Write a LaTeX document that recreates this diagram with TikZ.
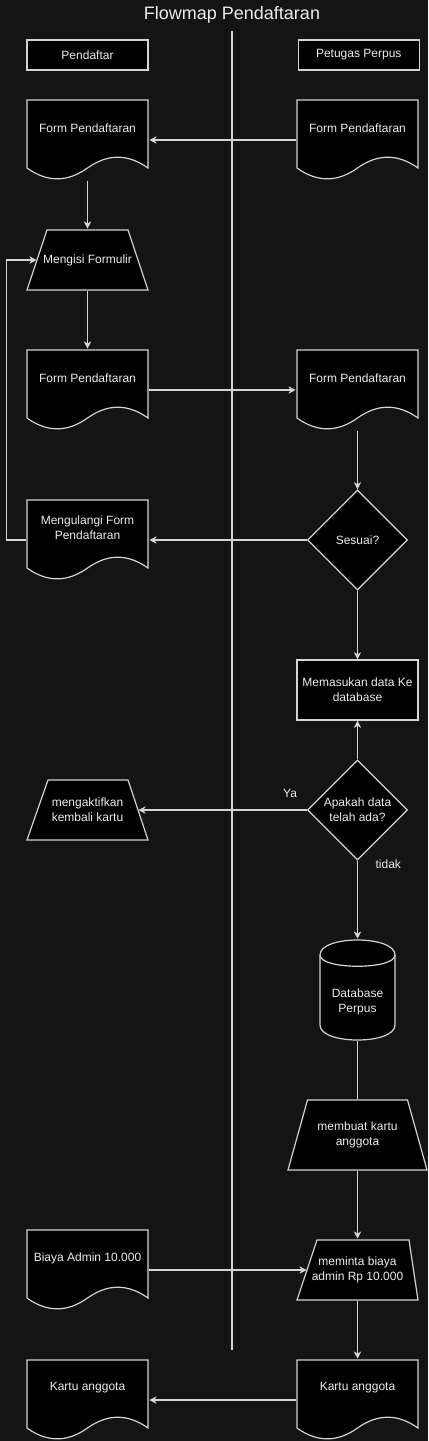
\documentclass[tikz,border=0pt]{standalone}
\usepackage{fontspec}
\setmainfont{Liberation Sans}
\usetikzlibrary{positioning,shapes.geometric,arrows.meta}
\definecolor{canvas}{RGB}{20,20,20}
\definecolor{stroke}{RGB}{212,212,212}
\definecolor{ink}{RGB}{236,236,236}
\newcommand{\pxu}{0.025cm}
\tikzset{%
  every node/.style={text=ink,font=\fontsize{8.54}{10.7}\selectfont,align=center},
  outline/.style={draw=stroke,fill=black,line width=0.85pt},
  lane/.style={outline,minimum width=121*\pxu,minimum height=30*\pxu,inner sep=0pt},
  proc/.style={outline,minimum width=121*\pxu,minimum height=60*\pxu,inner sep=0pt},
  doc/.style={minimum width=123*\pxu,minimum height=82*\pxu,inner sep=0pt,
    label={[yshift=0.3cm]center:#1},
    path picture={
      \filldraw[outline] (-60.5,-40) -- (60.5,-40) -- (60.5,28)
        .. controls (40.33,13.6) and (20.17,13.6) .. (0,28)
        .. controls (-20.17,42.4) and (-40.33,42.4) .. (-60.5,28) -- cycle;}},
  store/.style={minimum width=77*\pxu,minimum height=102*\pxu,inner sep=0pt,
    label={[yshift=-0.3cm]center:#1},
    path picture={
      \filldraw[outline] (-37.5,-35) .. controls (-37.5,-55) and (37.5,-55) .. (37.5,-35)
        -- (37.5,35) .. controls (37.5,55) and (-37.5,55) .. (-37.5,35) -- cycle;
      \draw[outline,fill=none] (-37.5,-35) .. controls (-37.5,-20) and (37.5,-20) .. (37.5,-35);}},
  % half width, half height, left inset, right inset, text
  io/.style n args={5}{minimum width=(2*#1+2)*\pxu,minimum height=(2*#2+2)*\pxu,inner sep=0pt,
    label={center:#5},
    path picture={
      \filldraw[outline] (-#1+#3,-#2) -- (#1-#4,-#2) -- (#1,#2) -- (-#1,#2) -- cycle;}},
  decide/.style={outline,diamond,minimum width=100*\pxu,minimum height=100*\pxu,inner sep=0pt},
  link/.style={draw=stroke,line width=0.85pt},
  flow/.style={link,-{Stealth[length=0.18cm,width=0.18cm,inset=0.05cm]}}
}

\begin{document}
\begin{tikzpicture}[x=\pxu,y=-\pxu]
  \path[fill=canvas,use as bounding box] (0,0) rectangle (428,1441);

  \node[font=\fontsize{12.8}{15}\selectfont] (title) at (232,15) {Flowmap Pendaftaran};
  \coordinate (laneTop) at (232,31);
  \coordinate (laneEnd) at (232,1350);
  \draw[link] (laneTop) -- (laneEnd);

  \node[lane] (pendaftar) at (87.5,55) {Pendaftar};
  \node[lane,right=3.725cm of pendaftar] (petugas) {Petugas Perpus};

  % pendaftar
  \node[doc=Form Pendaftaran] (formA) at (87.5,140) {};
  \node[io={60.5}{30}{20}{20}{Mengisi Formulir}] (isi) at (87.5,260) {};
  \node[doc=Form Pendaftaran] (formB) at (87.5,390) {};
  \node[doc={Mengulangi Form\\Pendaftaran}] (ulang) at (87.5,540) {};
  \node[io={60.5}{30}{21}{20}{mengaktifkan\\kembali kartu}] (aktif) at (87.5,810) {};
  \node[doc=Biaya Admin 10.000] (biaya) at (87.5,1270) {};
  \node[doc=Kartu anggota] (kartuA) at (87.5,1400) {};

  % petugas perpus
  \node[doc=Form Pendaftaran] (formP) at (357.5,140) {};
  \node[doc=Form Pendaftaran] (formC) at (357.5,390) {};
  \node[decide] (sesuai) at (357.5,540) {Sesuai?};
  \node[proc] (masuk) at (357.5,690) {Memasukan data Ke\\database};
  \node[decide] (ada) at (357.5,810) {Apakah data\\telah ada?};
  \node[store={Database\\Perpus}] (db) at (357.5,990) {};
  \node[io={69.5}{35}{19.5}{19.5}{membuat kartu\\anggota}] (buat) at (357.5,1135) {};
  \node[io={60.5}{30}{20}{9}{meminta biaya\\admin Rp 10.000}] (minta) at (357.5,1270) {};
  \node[doc=Kartu anggota] (kartuP) at (357.5,1400) {};

  \draw[flow] (formP) -- (formA);
  \draw[flow] (formA) -- (isi);
  \draw[flow] (isi) -- (formB);
  \draw[flow] (formB) -- (formC);
  \draw[flow] (formC) -- (sesuai);
  \draw[flow] (sesuai) -- (ulang);
  \draw[flow] (ulang.west) -- ++(-19,0) |- ([xshift=0.275cm]isi.west);
  \draw[flow] (sesuai) -- (masuk);
  \draw[flow] (ada) -- (masuk);
  \draw[flow] (ada.west) -- node[pos=0.1,above=0.19cm] {Ya} ([xshift=-0.275cm]aktif.east);
  \draw[flow] (ada.south) -- node[pos=0.05,right=0.32cm] {tidak} (db.north);
  \draw[link] (db) -- (buat);
  \draw[flow] (buat) -- (minta);
  \draw[flow] (biaya.east) -- ([xshift=0.275cm]minta.west);
  \draw[flow] (minta) -- (kartuP);
  \draw[flow] (kartuP) -- (kartuA);
\end{tikzpicture}
\end{document}
